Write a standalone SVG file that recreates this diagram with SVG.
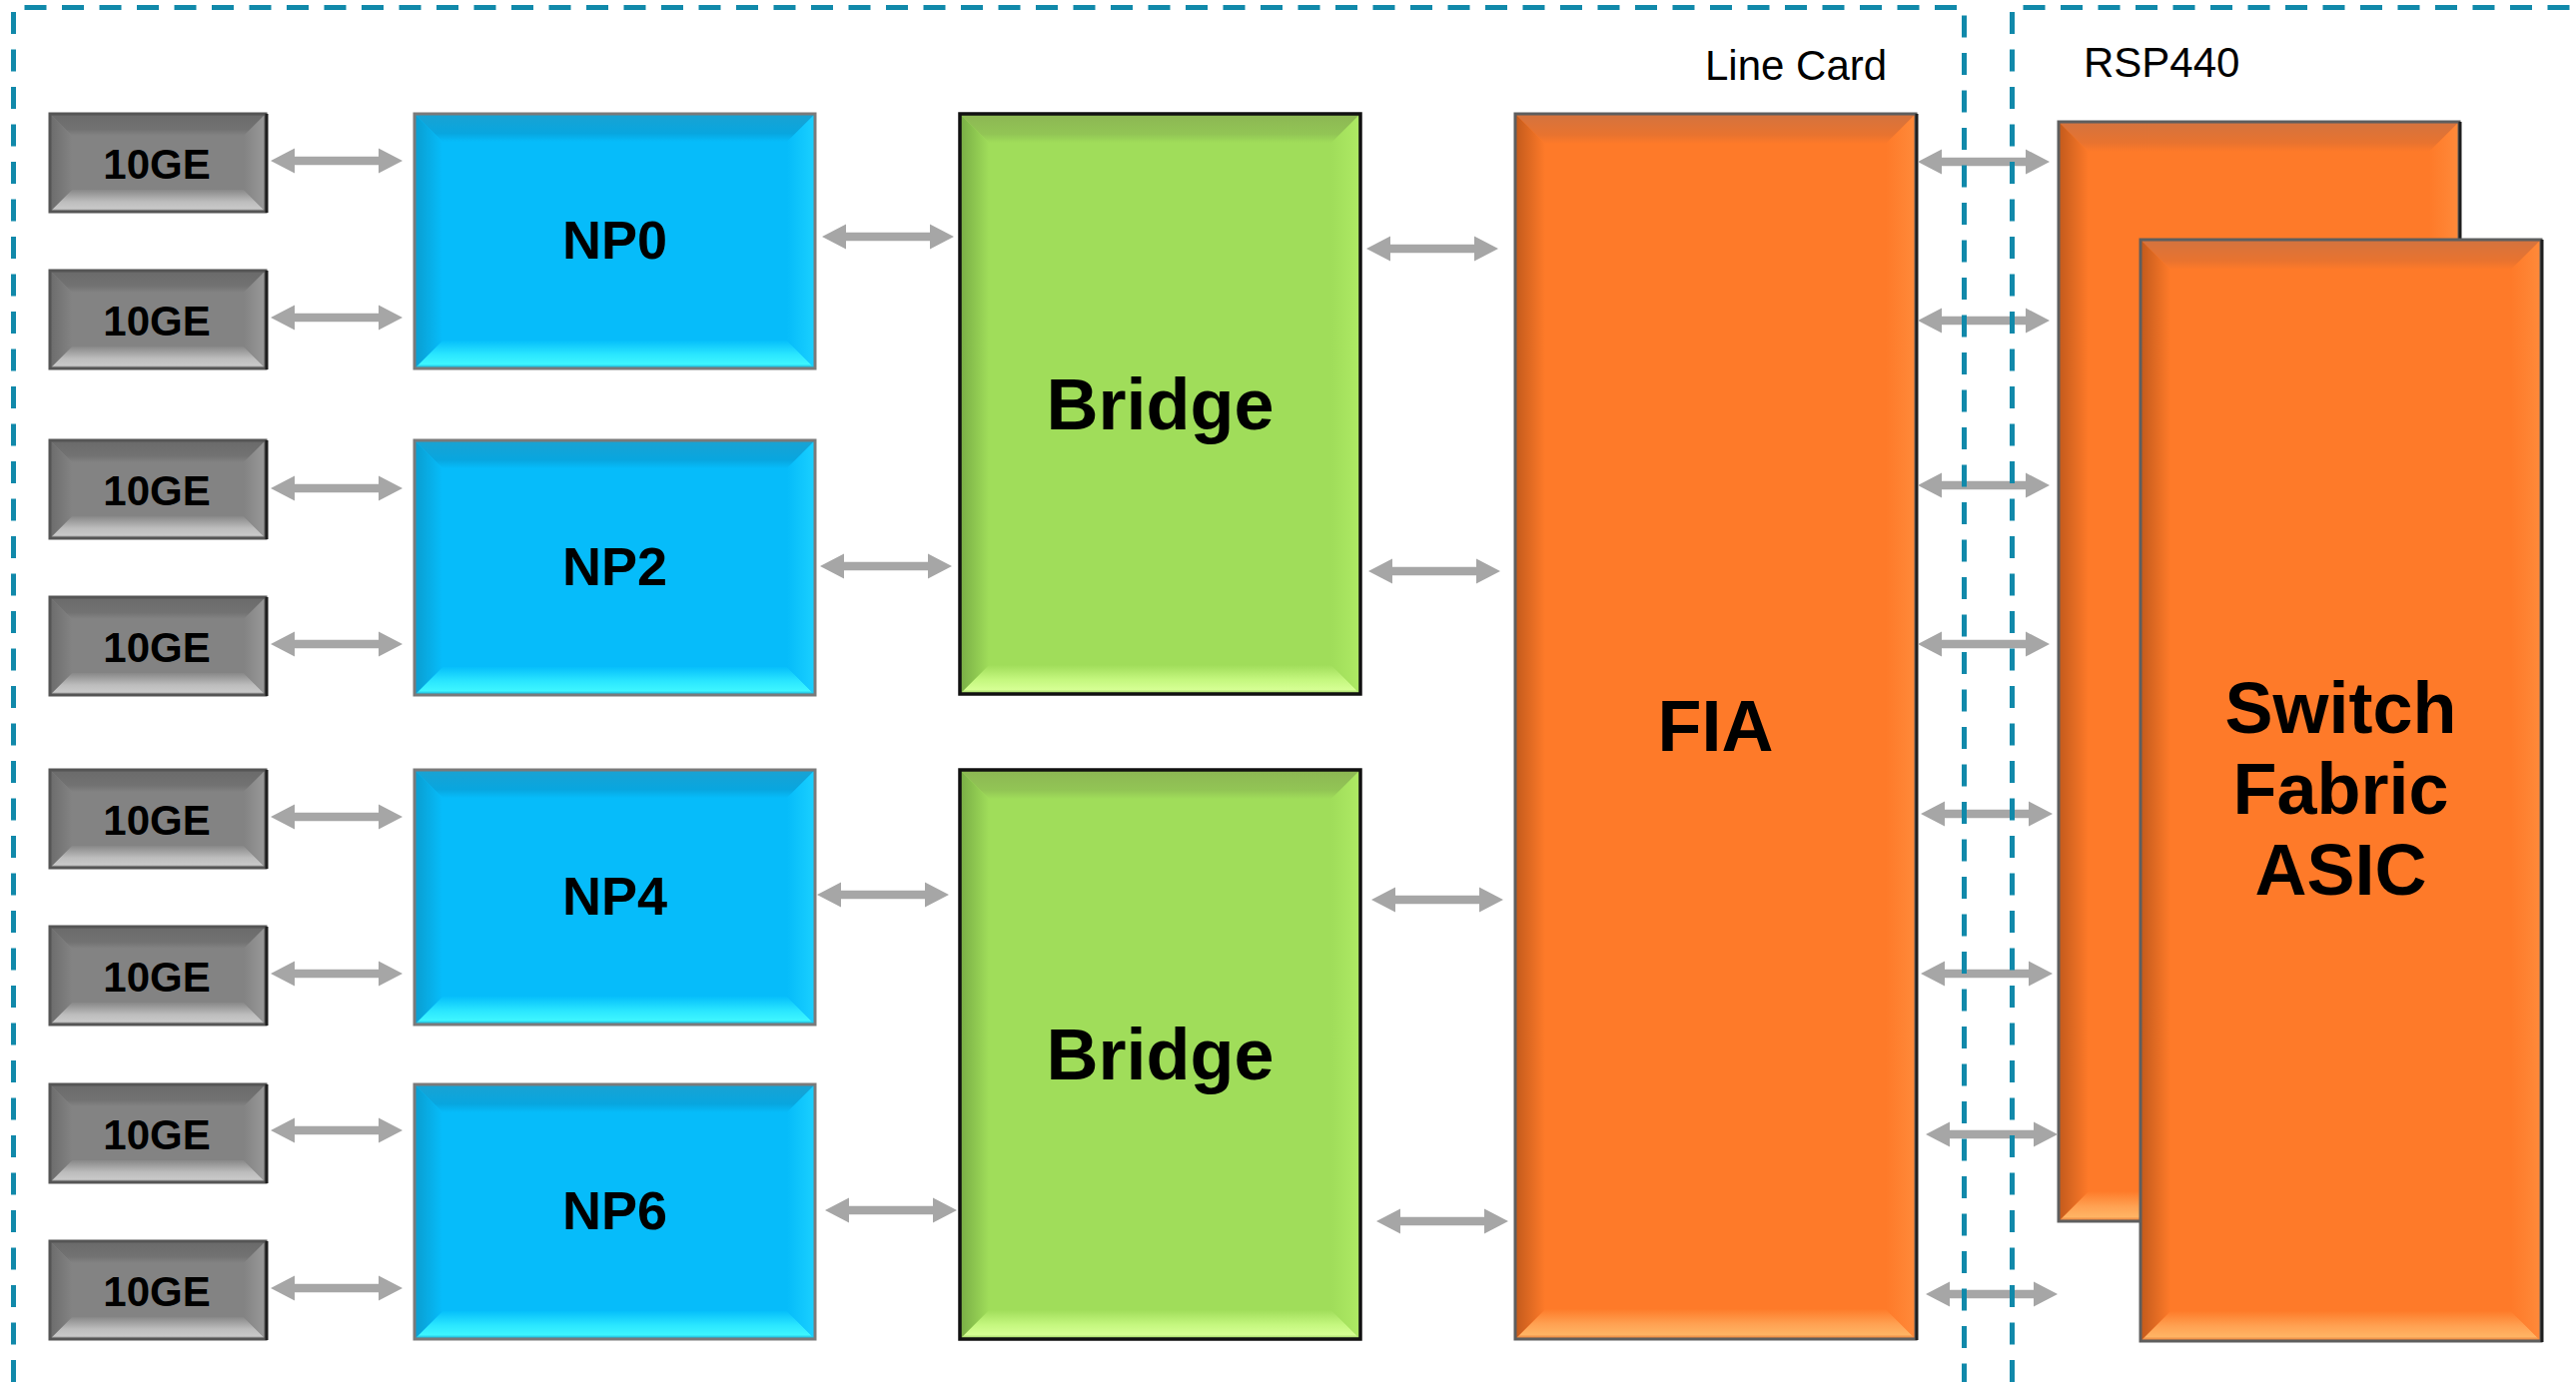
<svg xmlns="http://www.w3.org/2000/svg" width="2579" height="1384" viewBox="0 0 2579 1384">
<defs>
<linearGradient id="geT" x1="0" y1="0" x2="0" y2="1"><stop offset="0" stop-color="#6a6a6a"/><stop offset="0.7" stop-color="#727272"/><stop offset="1" stop-color="#838383"/></linearGradient>
<linearGradient id="geB" x1="0" y1="0" x2="0" y2="1"><stop offset="0" stop-color="#888888"/><stop offset="0.55" stop-color="#bdbdbd"/><stop offset="0.85" stop-color="#c8c8c8"/><stop offset="1" stop-color="#8a8a8a"/></linearGradient>
<linearGradient id="geL" x1="0" y1="0" x2="1" y2="0"><stop offset="0" stop-color="#6c6c6c"/><stop offset="1" stop-color="#838383"/></linearGradient>
<linearGradient id="geR" x1="0" y1="0" x2="1" y2="0"><stop offset="0" stop-color="#838383"/><stop offset="1" stop-color="#999999"/></linearGradient>
<linearGradient id="npT" x1="0" y1="0" x2="0" y2="1"><stop offset="0" stop-color="#1aa2d2"/><stop offset="0.7" stop-color="#08a6df"/><stop offset="1" stop-color="#06bcfa"/></linearGradient>
<linearGradient id="npB" x1="0" y1="0" x2="0" y2="1"><stop offset="0" stop-color="#06bffb"/><stop offset="0.5" stop-color="#2ae6ff"/><stop offset="0.85" stop-color="#3ef6ff"/><stop offset="1" stop-color="#0a9ccc"/></linearGradient>
<linearGradient id="npL" x1="0" y1="0" x2="1" y2="0"><stop offset="0" stop-color="#0a9dd0"/><stop offset="1" stop-color="#06bcfa"/></linearGradient>
<linearGradient id="npR" x1="0" y1="0" x2="1" y2="0"><stop offset="0" stop-color="#06bcfa"/><stop offset="1" stop-color="#1ad0ff"/></linearGradient>
<linearGradient id="brT" x1="0" y1="0" x2="0" y2="1"><stop offset="0" stop-color="#8cb653"/><stop offset="0.7" stop-color="#92c555"/><stop offset="1" stop-color="#a0dd5a"/></linearGradient>
<linearGradient id="brB" x1="0" y1="0" x2="0" y2="1"><stop offset="0" stop-color="#a0dd5a"/><stop offset="0.5" stop-color="#c4f77e"/><stop offset="0.85" stop-color="#d6ff94"/><stop offset="1" stop-color="#8cc455"/></linearGradient>
<linearGradient id="brL" x1="0" y1="0" x2="1" y2="0"><stop offset="0" stop-color="#78ad45"/><stop offset="1" stop-color="#a0dd5a"/></linearGradient>
<linearGradient id="brR" x1="0" y1="0" x2="1" y2="0"><stop offset="0" stop-color="#a0dd5a"/><stop offset="1" stop-color="#aeea64"/></linearGradient>
<linearGradient id="orT" x1="0" y1="0" x2="0" y2="1"><stop offset="0" stop-color="#d3733f"/><stop offset="0.7" stop-color="#e8732f"/><stop offset="1" stop-color="#fe7a29"/></linearGradient>
<linearGradient id="orB" x1="0" y1="0" x2="0" y2="1"><stop offset="0" stop-color="#fe7b29"/><stop offset="0.5" stop-color="#ffa152"/><stop offset="0.85" stop-color="#ffb464"/><stop offset="1" stop-color="#e0702e"/></linearGradient>
<linearGradient id="orL" x1="0" y1="0" x2="1" y2="0"><stop offset="0" stop-color="#c25a1c"/><stop offset="1" stop-color="#fe7a29"/></linearGradient>
<linearGradient id="orR" x1="0" y1="0" x2="1" y2="0"><stop offset="0" stop-color="#fe7a29"/><stop offset="1" stop-color="#ff8a3a"/></linearGradient>
<path id="arr" d="M0,0 L24,-12.5 L24,-4.2 L108,-4.2 L108,-12.5 L132,0 L108,12.5 L108,4.2 L24,4.2 L24,12.5 Z"/>
</defs>
<style>
text{font-family:"Liberation Sans",Arial,sans-serif;fill:#000}
.lbl{font-weight:bold;text-anchor:middle}
.ge .base{fill:#838383}.ge .t{fill:url(#geT)}.ge .b{fill:url(#geB)}.ge .l{fill:url(#geL)}.ge .r{fill:url(#geR)}
.ge .edge{fill:none;stroke:#555555;stroke-width:3}
.ge text{font-size:42px}
.np .base{fill:#06bcfa}.np .t{fill:url(#npT)}.np .b{fill:url(#npB)}.np .l{fill:url(#npL)}.np .r{fill:url(#npR)}
.np .edge{fill:none;stroke:#7a7a7a;stroke-width:3}
.np text{font-size:54px}
.br .base{fill:#a0dd5a}.br .t{fill:url(#brT)}.br .b{fill:url(#brB)}.br .l{fill:url(#brL)}.br .r{fill:url(#brR)}
.br .edge{fill:none;stroke:#111111;stroke-width:3.5}
.or .base{fill:#fe7a29}.or .t{fill:url(#orT)}.or .b{fill:url(#orB)}.or .l{fill:url(#orL)}.or .r{fill:url(#orR)}
.or .edge{fill:none;stroke:#5e5e5e;stroke-width:3}
.big{font-size:72px}
.shadow{stroke:#1e1e1e;stroke-width:3}
#connectors use{fill:#a6a6a6}
.dash{fill:none;stroke:#1189aa;stroke-width:5;stroke-dasharray:22 15.5}
.plain{font-size:42px}
</style>
<rect width="2579" height="1384" fill="#ffffff"/>

<g id="ge1" class="ge"><rect class="base" x="50" y="114" width="216" height="98"/><polygon class="t" points="50,114 266,114 244,136 72,136"/><polygon class="b" points="50,212 266,212 244,190 72,190"/><polygon class="l" points="50,114 72,136 72,190 50,212"/><polygon class="r" points="266,114 244,136 244,190 266,212"/><rect class="edge" x="50" y="114" width="216" height="98"/><line class="shadow" x1="267" y1="114" x2="267" y2="213"/><text class="lbl" x="157" y="179">10GE</text></g>
<g id="ge2" class="ge"><rect class="base" x="50" y="271" width="216" height="98"/><polygon class="t" points="50,271 266,271 244,293 72,293"/><polygon class="b" points="50,369 266,369 244,347 72,347"/><polygon class="l" points="50,271 72,293 72,347 50,369"/><polygon class="r" points="266,271 244,293 244,347 266,369"/><rect class="edge" x="50" y="271" width="216" height="98"/><line class="shadow" x1="267" y1="271" x2="267" y2="370"/><text class="lbl" x="157" y="336">10GE</text></g>
<g id="ge3" class="ge"><rect class="base" x="50" y="441" width="216" height="98"/><polygon class="t" points="50,441 266,441 244,463 72,463"/><polygon class="b" points="50,539 266,539 244,517 72,517"/><polygon class="l" points="50,441 72,463 72,517 50,539"/><polygon class="r" points="266,441 244,463 244,517 266,539"/><rect class="edge" x="50" y="441" width="216" height="98"/><line class="shadow" x1="267" y1="441" x2="267" y2="540"/><text class="lbl" x="157" y="506">10GE</text></g>
<g id="ge4" class="ge"><rect class="base" x="50" y="598" width="216" height="98"/><polygon class="t" points="50,598 266,598 244,620 72,620"/><polygon class="b" points="50,696 266,696 244,674 72,674"/><polygon class="l" points="50,598 72,620 72,674 50,696"/><polygon class="r" points="266,598 244,620 244,674 266,696"/><rect class="edge" x="50" y="598" width="216" height="98"/><line class="shadow" x1="267" y1="598" x2="267" y2="697"/><text class="lbl" x="157" y="663">10GE</text></g>
<g id="ge5" class="ge"><rect class="base" x="50" y="771" width="216" height="98"/><polygon class="t" points="50,771 266,771 244,793 72,793"/><polygon class="b" points="50,869 266,869 244,847 72,847"/><polygon class="l" points="50,771 72,793 72,847 50,869"/><polygon class="r" points="266,771 244,793 244,847 266,869"/><rect class="edge" x="50" y="771" width="216" height="98"/><line class="shadow" x1="267" y1="771" x2="267" y2="870"/><text class="lbl" x="157" y="836">10GE</text></g>
<g id="ge6" class="ge"><rect class="base" x="50" y="928" width="216" height="98"/><polygon class="t" points="50,928 266,928 244,950 72,950"/><polygon class="b" points="50,1026 266,1026 244,1004 72,1004"/><polygon class="l" points="50,928 72,950 72,1004 50,1026"/><polygon class="r" points="266,928 244,950 244,1004 266,1026"/><rect class="edge" x="50" y="928" width="216" height="98"/><line class="shadow" x1="267" y1="928" x2="267" y2="1027"/><text class="lbl" x="157" y="993">10GE</text></g>
<g id="ge7" class="ge"><rect class="base" x="50" y="1086" width="216" height="98"/><polygon class="t" points="50,1086 266,1086 244,1108 72,1108"/><polygon class="b" points="50,1184 266,1184 244,1162 72,1162"/><polygon class="l" points="50,1086 72,1108 72,1162 50,1184"/><polygon class="r" points="266,1086 244,1108 244,1162 266,1184"/><rect class="edge" x="50" y="1086" width="216" height="98"/><line class="shadow" x1="267" y1="1086" x2="267" y2="1185"/><text class="lbl" x="157" y="1151">10GE</text></g>
<g id="ge8" class="ge"><rect class="base" x="50" y="1243" width="216" height="98"/><polygon class="t" points="50,1243 266,1243 244,1265 72,1265"/><polygon class="b" points="50,1341 266,1341 244,1319 72,1319"/><polygon class="l" points="50,1243 72,1265 72,1319 50,1341"/><polygon class="r" points="266,1243 244,1265 244,1319 266,1341"/><rect class="edge" x="50" y="1243" width="216" height="98"/><line class="shadow" x1="267" y1="1243" x2="267" y2="1342"/><text class="lbl" x="157" y="1308">10GE</text></g>

<g id="np0" class="np"><rect class="base" x="415" y="114" width="401" height="255"/><polygon class="t" points="415,114 816,114 788,142 443,142"/><polygon class="b" points="415,369 816,369 788,341 443,341"/><polygon class="l" points="415,114 443,142 443,341 415,369"/><polygon class="r" points="816,114 788,142 788,341 816,369"/><rect class="edge" x="415" y="114" width="401" height="255"/><text class="lbl" x="615.5" y="259">NP0</text></g>
<g id="np2" class="np"><rect class="base" x="415" y="441" width="401" height="255"/><polygon class="t" points="415,441 816,441 788,469 443,469"/><polygon class="b" points="415,696 816,696 788,668 443,668"/><polygon class="l" points="415,441 443,469 443,668 415,696"/><polygon class="r" points="816,441 788,469 788,668 816,696"/><rect class="edge" x="415" y="441" width="401" height="255"/><text class="lbl" x="615.5" y="586">NP2</text></g>
<g id="np4" class="np"><rect class="base" x="415" y="771" width="401" height="255"/><polygon class="t" points="415,771 816,771 788,799 443,799"/><polygon class="b" points="415,1026 816,1026 788,998 443,998"/><polygon class="l" points="415,771 443,799 443,998 415,1026"/><polygon class="r" points="816,771 788,799 788,998 816,1026"/><rect class="edge" x="415" y="771" width="401" height="255"/><text class="lbl" x="615.5" y="916">NP4</text></g>
<g id="np6" class="np"><rect class="base" x="415" y="1086" width="401" height="255"/><polygon class="t" points="415,1086 816,1086 788,1114 443,1114"/><polygon class="b" points="415,1341 816,1341 788,1313 443,1313"/><polygon class="l" points="415,1086 443,1114 443,1313 415,1341"/><polygon class="r" points="816,1086 788,1114 788,1313 816,1341"/><rect class="edge" x="415" y="1086" width="401" height="255"/><text class="lbl" x="615.5" y="1231">NP6</text></g>

<g id="bridge1" class="br"><rect class="base" x="961" y="114" width="401" height="581"/><polygon class="t" points="961,114 1362,114 1333,143 990,143"/><polygon class="b" points="961,695 1362,695 1333,666 990,666"/><polygon class="l" points="961,114 990,143 990,666 961,695"/><polygon class="r" points="1362,114 1333,143 1333,666 1362,695"/><rect class="edge" x="961" y="114" width="401" height="581"/><text class="lbl big" x="1161.5" y="430">Bridge</text></g>
<g id="bridge2" class="br"><rect class="base" x="961" y="771" width="401" height="570"/><polygon class="t" points="961,771 1362,771 1333,800 990,800"/><polygon class="b" points="961,1341 1362,1341 1333,1312 990,1312"/><polygon class="l" points="961,771 990,800 990,1312 961,1341"/><polygon class="r" points="1362,771 1333,800 1333,1312 1362,1341"/><rect class="edge" x="961" y="771" width="401" height="570"/><text class="lbl big" x="1161.5" y="1081">Bridge</text></g>

<g id="fia" class="or"><rect class="base" x="1517" y="114" width="401" height="1227"/><polygon class="t" points="1517,114 1918,114 1888,144 1547,144"/><polygon class="b" points="1517,1341 1918,1341 1888,1311 1547,1311"/><polygon class="l" points="1517,114 1547,144 1547,1311 1517,1341"/><polygon class="r" points="1918,114 1888,144 1888,1311 1918,1341"/><rect class="edge" x="1517" y="114" width="401" height="1227"/><line class="shadow" x1="1919" y1="114" x2="1919" y2="1342"/><text class="lbl big" x="1717.5" y="752">FIA</text></g>

<g id="rsp-back" class="or"><rect class="base" x="2061" y="122" width="401" height="1101"/><polygon class="t" points="2061,122 2462,122 2432,152 2091,152"/><polygon class="b" points="2061,1223 2462,1223 2432,1193 2091,1193"/><polygon class="l" points="2061,122 2091,152 2091,1193 2061,1223"/><polygon class="r" points="2462,122 2432,152 2432,1193 2462,1223"/><rect class="edge" x="2061" y="122" width="401" height="1101"/><line class="shadow" x1="2463" y1="122" x2="2463" y2="1224"/></g>

<g id="switch-fabric" class="or"><rect class="base" x="2143" y="240" width="401" height="1103"/><polygon class="t" points="2143,240 2544,240 2514,270 2173,270"/><polygon class="b" points="2143,1343 2544,1343 2514,1313 2173,1313"/><polygon class="l" points="2143,240 2173,270 2173,1313 2143,1343"/><polygon class="r" points="2544,240 2514,270 2514,1313 2544,1343"/><rect class="edge" x="2143" y="240" width="401" height="1103"/><line class="shadow" x1="2545" y1="240" x2="2545" y2="1344"/><text class="lbl big" x="2343.5" y="734">Switch</text><text class="lbl big" x="2343.5" y="815">Fabric</text><text class="lbl big" x="2343.5" y="896">ASIC</text></g>

<g id="connectors">
<use href="#arr" x="271" y="161"/>
<use href="#arr" x="271" y="318"/>
<use href="#arr" x="271" y="489"/>
<use href="#arr" x="271" y="645"/>
<use href="#arr" x="271" y="818"/>
<use href="#arr" x="271" y="975"/>
<use href="#arr" x="271" y="1132"/>
<use href="#arr" x="271" y="1290"/>
<use href="#arr" x="823" y="237"/>
<use href="#arr" x="821" y="567"/>
<use href="#arr" x="818" y="896"/>
<use href="#arr" x="826" y="1212"/>
<use href="#arr" x="1368" y="249"/>
<use href="#arr" x="1370" y="572"/>
<use href="#arr" x="1373" y="901"/>
<use href="#arr" x="1378" y="1223"/>
<use href="#arr" x="1920" y="162"/>
<use href="#arr" x="1920" y="321"/>
<use href="#arr" x="1920" y="486"/>
<use href="#arr" x="1920" y="645"/>
<use href="#arr" x="1923" y="815"/>
<use href="#arr" x="1923" y="975"/>
<use href="#arr" x="1928" y="1136"/>
<use href="#arr" x="1928" y="1296"/>
</g>

<g id="line-card">
<path class="dash" d="M13.5,1384 V7.5 H1966.5 V1384"/>
<text class="plain" x="1707" y="80">Line Card</text>
</g>
<g id="rsp440">
<path class="dash" d="M2014.5,1384 V7.5 H2579"/>
<text class="plain" x="2086" y="77">RSP440</text>
</g>
</svg>
